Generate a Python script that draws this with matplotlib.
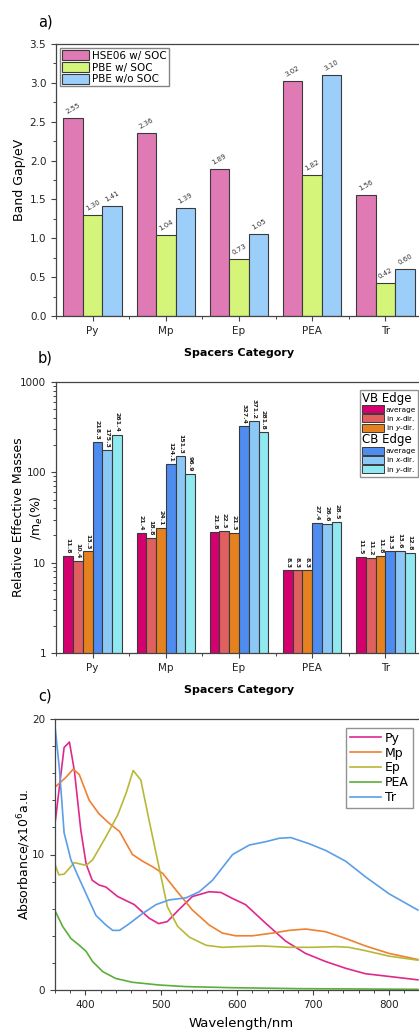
import numpy as np
import matplotlib
matplotlib.use('Agg')
import matplotlib.pyplot as plt
from matplotlib.patches import Patch
from matplotlib.ticker import MultipleLocator, LogLocator, NullFormatter

# ---- panel a data
spacers = ['Py', 'Mp', 'Ep', 'PEA', 'Tr']
gap_hse_soc = [2.55, 2.36, 1.89, 3.02, 1.56]
gap_pbe_soc = [1.30, 1.04, 0.73, 1.82, 0.42]
gap_pbe_nosoc = [1.41, 1.39, 1.05, 3.10, 0.60]

# ---- panel b data
vb_avg = [11.8, 21.4, 21.8, 8.3, 11.5]
vb_x = [10.4, 18.8, 22.3, 8.3, 11.2]
vb_y = [13.3, 24.1, 21.3, 8.3, 11.8]
cb_avg = [218.3, 124.1, 327.4, 27.4, 13.3]
cb_x = [175.3, 151.3, 371.2, 26.6, 13.6]
cb_y = [261.4, 96.9, 281.8, 28.5, 12.8]

# ---- panel c data
wl_py = [360.5, 372, 379, 385.5, 394, 401, 409, 418, 427, 442.5, 464.5, 484, 496.5, 508, 523.5, 541, 563, 578.5, 594, 611, 638, 664, 690, 716.5, 743, 769, 800, 838]
abs_py = [12.5, 17.9, 18.3, 16.2, 11.8, 9.3, 8.1, 7.75, 7.6, 6.9, 6.3, 5.3, 4.9, 5.05, 5.95, 6.9, 7.25, 7.2, 6.75, 6.3, 4.9, 3.6, 2.7, 2.1, 1.6, 1.2, 1.0, 0.75]
wl_mp = [360.5, 374.5, 384, 392, 405, 418, 431.5, 445, 462, 475.5, 488.5, 502, 519, 541, 563, 580.5, 598, 620, 646.5, 668.5, 690, 716.5, 743, 769, 800, 838]
abs_mp = [15.0, 15.7, 16.3, 15.9, 14.0, 13.0, 12.3, 11.7, 10.0, 9.5, 9.1, 8.6, 7.4, 5.9, 4.8, 4.2, 4.0, 4.0, 4.2, 4.4, 4.5, 4.3, 3.8, 3.25, 2.7, 2.25]
wl_ep = [360.5, 365, 372, 385.5, 401, 409.5, 427, 442.5, 453.5, 463, 473, 484, 495, 508, 521.5, 537, 559, 580.5, 602.5, 633, 668.5, 699, 730, 747, 769, 800, 838]
abs_ep = [9.2, 8.5, 8.55, 9.4, 9.2, 9.6, 11.3, 12.9, 14.5, 16.2, 15.5, 12.5, 9.6, 6.15, 4.7, 3.9, 3.3, 3.15, 3.2, 3.25, 3.15, 3.15, 3.2, 3.15, 2.9, 2.5, 2.2]
wl_pea = [360.5, 370, 381, 392, 401, 409.5, 423, 440, 462, 497, 532.5, 594, 681.5, 838]
abs_pea = [5.8, 4.7, 3.8, 3.3, 2.85, 2.1, 1.35, 0.85, 0.57, 0.37, 0.25, 0.17, 0.1, 0.05]
wl_tr = [360.5, 366, 372, 381, 392, 405, 414, 427, 436, 445, 458, 475.5, 493, 510.5, 532.5, 550, 567.5, 594, 616, 638, 655.5, 670.5, 694.5, 716.5, 743, 769, 800, 838]
abs_tr = [19.2, 16.2, 11.6, 9.6, 8.2, 6.6, 5.5, 4.8, 4.4, 4.4, 4.9, 5.65, 6.3, 6.65, 6.8, 7.25, 8.1, 10.0, 10.7, 10.95, 11.2, 11.25, 10.8, 10.3, 9.5, 8.35, 7.1, 5.9]

edge = '#3a3a3a'
spine_c = '#444444'

fig = plt.figure(figsize=(4.19, 10.32), dpi=100)


def style_axes(ax):
    for s in ax.spines.values():
        s.set_color(spine_c)
        s.set_linewidth(0.9)
    ax.tick_params(which='both', direction='out', colors=spine_c, labelcolor='#222222',
                   top=False, right=False, labelsize=7.5)
    ax.tick_params(which='major', length=3.5, width=0.8)
    ax.tick_params(which='minor', length=2, width=0.7)


x = np.arange(len(spacers))

# ---------------- a)
ax1 = fig.add_axes([56 / 419, 1 - 316 / 1032, 366 / 419, 272 / 1032])
w = 0.8 / 3
cols_a = ['#E07AB4', '#D5F57A', '#9BCFFA']
labels_a = ['HSE06 w/ SOC', 'PBE w/ SOC', 'PBE w/o SOC']
for i, vals in enumerate([gap_hse_soc, gap_pbe_soc, gap_pbe_nosoc]):
    bars = ax1.bar(x + (i - 1) * w, vals, w, color=cols_a[i], edgecolor=edge, linewidth=0.8,
                   label=labels_a[i])
    for b, v in zip(bars, vals):
        ax1.text(b.get_x() + b.get_width() / 2, v + 0.04, '%.2f' % v, fontsize=5,
                 rotation=30, ha='center', va='bottom', color='#333333')
ax1.set_xlim(-0.5, 4.5)
ax1.set_ylim(0, 3.5)
ax1.yaxis.set_major_locator(MultipleLocator(0.5))
ax1.yaxis.set_minor_locator(MultipleLocator(0.25))
ax1.set_xticks(x)
ax1.set_xticklabels(spacers)
ax1.set_xticks(np.arange(-0.5, 5, 1), minor=True)
ax1.set_ylabel('Band Gap/eV', fontsize=9)
ax1.yaxis.set_label_coords(-0.082, 0.5)
ax1.set_xlabel('Spacers Category', fontsize=8, fontweight='bold', labelpad=9)
style_axes(ax1)
ax1.legend(loc='upper left', fontsize=7.5, frameon=True, fancybox=False, edgecolor='#666666',
           borderpad=0.2, handlelength=2.6, handleheight=1.1, handletextpad=0.3,
           labelspacing=0.12, borderaxespad=0.4)

# ---------------- b)
ax2 = fig.add_axes([56 / 419, 1 - 653 / 1032, 366 / 419, 271 / 1032])
w6 = 0.8 / 6
cols_b = ['#D4006E', '#E06060', '#E5821F', '#4E8CF0', '#8CC8F5', '#90E8F0']
series_b = [vb_avg, vb_x, vb_y, cb_avg, cb_x, cb_y]
for i, vals in enumerate(series_b):
    bars = ax2.bar(x + (i - 2.5) * w6, vals, w6, color=cols_b[i], edgecolor=edge, linewidth=0.8)
    for b, v in zip(bars, vals):
        ax2.text(b.get_x() + b.get_width() / 2, v * 1.06, '%.1f' % v, fontsize=4.5,
                 fontweight='bold', rotation=270, ha='center', va='bottom', color='#222222')
ax2.set_yscale('log')
ax2.set_ylim(1, 1000)
ax2.set_xlim(-0.5, 4.5)
ax2.yaxis.set_major_locator(LogLocator(base=10))
ax2.yaxis.set_minor_locator(LogLocator(base=10, subs=np.arange(2, 10)))
ax2.yaxis.set_minor_formatter(NullFormatter())
ax2.set_yticks([1, 10, 100, 1000])
ax2.set_yticklabels(['1', '10', '100', '1000'])
ax2.set_xticks(x)
ax2.set_xticklabels(spacers)
ax2.set_xticks(np.arange(-0.5, 5, 1), minor=True)
ax2.set_ylabel('Relative Effective Masses', fontsize=9)
ax2.yaxis.set_label_coords(-0.085, 0.5)
ax2.text(-0.052, 0.5, '/m$_e$(%)', transform=ax2.transAxes, rotation=90, fontsize=9,
         ha='center', va='center')
ax2.set_xlabel('Spacers Category', fontsize=8, fontweight='bold', labelpad=9)
style_axes(ax2)

blank = Patch(visible=False)
handles_b = [blank] + [Patch(facecolor=c, edgecolor=edge, linewidth=0.7) for c in cols_b[:3]] + \
            [blank] + [Patch(facecolor=c, edgecolor=edge, linewidth=0.7) for c in cols_b[3:]]
labels_b = ['VB Edge', 'average', 'in $x$-dir.', 'in $y$-dir.',
            'CB Edge', 'average', 'in $x$-dir.', 'in $y$-dir.']
leg = ax2.legend(handles_b, labels_b, loc='upper right', bbox_to_anchor=(1.0, 0.985),
                 fontsize=5.3, frameon=True, fancybox=False, edgecolor='#777777',
                 borderpad=0.3, handlelength=3.0, handleheight=1.3, handletextpad=0.25,
                 labelspacing=0.05)
for t in (leg.get_texts()[0], leg.get_texts()[4]):
    t.set_fontsize(8.5)
try:
    rows = leg._legend_handle_box.get_children()[0].get_children()
    for k in (0, 4):
        rows[k].get_children()[0].width = 0
        rows[k].sep = 0
except Exception:
    pass

# ---------------- c)
ax3 = fig.add_axes([55 / 419, 1 - 990 / 1032, 372 / 419, 271 / 1032])
curves = [('Py', wl_py, abs_py, '#E0288C'),
          ('Mp', wl_mp, abs_mp, '#F08030'),
          ('Ep', wl_ep, abs_ep, '#B8B838'),
          ('PEA', wl_pea, abs_pea, '#5BAE3A'),
          ('Tr', wl_tr, abs_tr, '#5B9EE8')]
for name, wl, ab, c in curves:
    ax3.plot(wl, ab, color=c, lw=1.2, label=name)
ax3.set_xlim(360, 850)
ax3.set_ylim(0, 20)
ax3.xaxis.set_major_locator(MultipleLocator(100))
ax3.xaxis.set_minor_locator(MultipleLocator(20))
ax3.yaxis.set_major_locator(MultipleLocator(10))
ax3.yaxis.set_minor_locator(MultipleLocator(2))
ax3.set_ylabel('Absorbance/x10$^6$a.u.', fontsize=9)
ax3.yaxis.set_label_coords(-0.059, 0.5)
ax3.set_xlabel('Wavelength/nm', fontsize=9.5, labelpad=5)
style_axes(ax3)
ax3.legend(loc='upper right', bbox_to_anchor=(0.962, 0.967), fontsize=9, frameon=True,
           fancybox=False, edgecolor='#777777', borderpad=0.3, handlelength=2.5,
           handletextpad=0.3, labelspacing=0.15, borderaxespad=0)

fig.text(38 / 419, 1 - 22 / 1032, 'a)', fontsize=10.5, ha='left', va='center')
fig.text(38 / 419, 1 - 358 / 1032, 'b)', fontsize=10.5, ha='left', va='center')
fig.text(38 / 419, 1 - 696 / 1032, 'c)', fontsize=10.5, ha='left', va='center')

plt.savefig('out.png', dpi=100)
